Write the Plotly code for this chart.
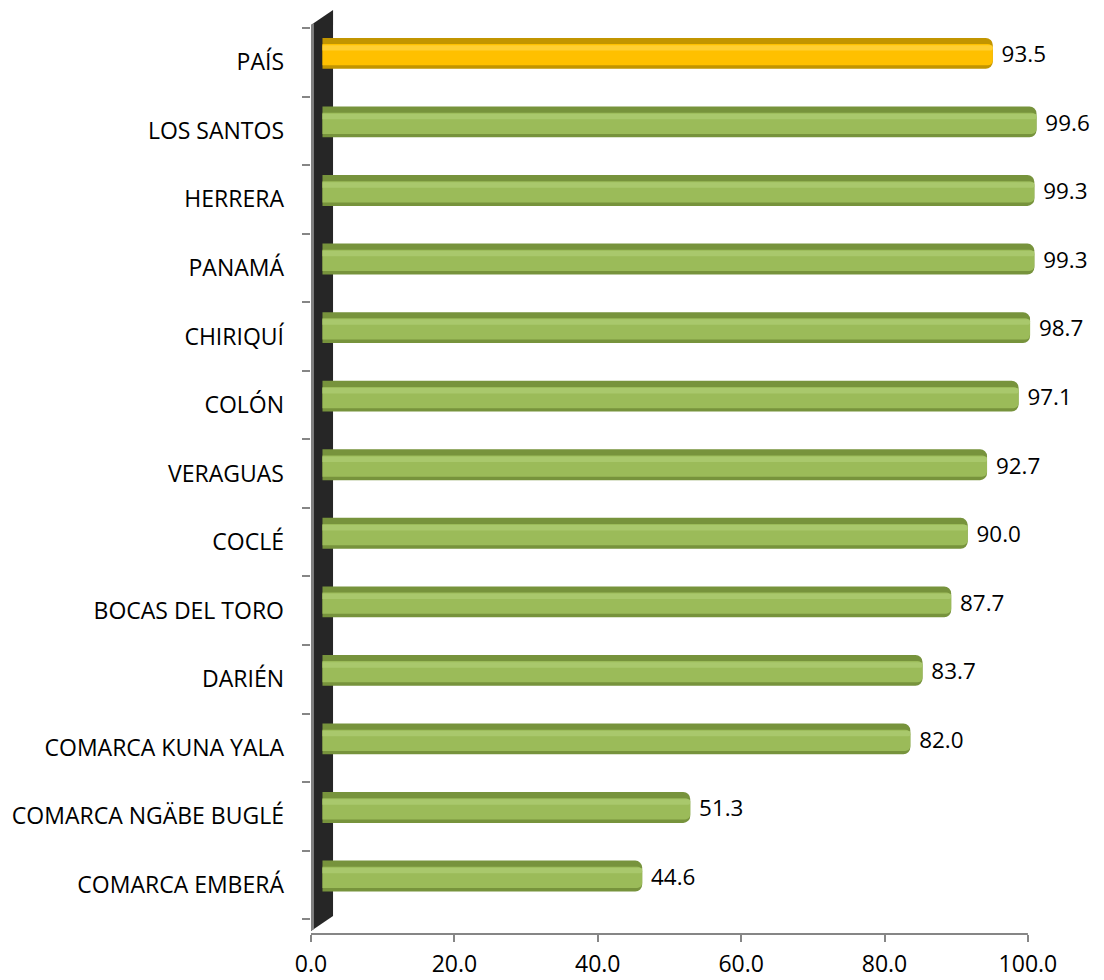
import plotly.graph_objects as go

# categories listed bottom -> top
regions = ["COMARCA EMBERÁ", "COMARCA NGÄBE BUGLÉ", "COMARCA KUNA YALA", "DARIÉN",
           "BOCAS DEL TORO", "COCLÉ", "VERAGUAS", "COLÓN", "CHIRIQUÍ", "PANAMÁ",
           "HERRERA", "LOS SANTOS", "PAÍS"]
values = [44.6, 51.3, 82.0, 83.7, 87.7, 90.0, 92.7, 97.1, 98.7, 99.3, 99.3, 99.6, 93.5]
x_ticks = [0, 20, 40, 60, 80, 100]

dark = ["#C29500" if r == "PAÍS" else "#77933C" for r in regions]
body = ["#FFC000" if r == "PAÍS" else "#9BBB59" for r in regions]
shine = ["#FFCF33" if r == "PAÍS" else "#A9C86C" for r in regions]

FONT = "'Open Sans', sans-serif"
SHIFT = 1.6      # 3D depth offset of the bars, in axis units
XMAX = 103.5     # room on the right for the value labels

fig = go.Figure()
# outer (shadow) bar with rounded end
fig.add_trace(go.Bar(
    y=regions, x=values, orientation="h", xaxis="x2",
    width=0.45, offset=-0.095,
    marker=dict(color=dark, cornerradius=7, line=dict(width=0)),
    text=[" " + f"{v:.1f}" for v in values], textposition="outside",
    textfont=dict(family=FONT, size=24, color="#000000"),
    cliponaxis=False, hoverinfo="skip",
))
# lighter body
fig.add_trace(go.Bar(
    y=regions, x=values, orientation="h", xaxis="x2",
    width=0.31, offset=-0.045,
    marker=dict(color=body, cornerradius=5, line=dict(width=0)),
    cliponaxis=False, hoverinfo="skip",
))
# soft highlight strip
fig.add_trace(go.Bar(
    y=regions, x=values, orientation="h", xaxis="x2",
    width=0.08, offset=0.17,
    marker=dict(color=shine, cornerradius=3, line=dict(width=0)),
    cliponaxis=False, hoverinfo="skip",
))
# invisible trace so the value axis gets drawn
fig.add_trace(go.Scatter(x=[0, 100], y=[regions[0], regions[0]], mode="markers",
                         marker=dict(opacity=0), hoverinfo="skip"))

# 3D back wall
fig.add_shape(type="path", xref="paper", yref="paper",
              path="M 0,0.0033 L 0,1.0033 L 0.0297,1.0199 L 0.0297,0.0199 Z",
              fillcolor="#262626", line=dict(width=0), layer="below")
fig.add_shape(type="path", xref="paper", yref="paper",
              path="M 0,0.0033 L 0,1.0033 L 0.004,1.0055 L 0.004,0.0055 Z",
              fillcolor="#808080", line=dict(width=0), layer="below")
# value axis line, only up to 100
fig.add_shape(type="line", xref="x", yref="paper", x0=0, x1=100, y0=0, y1=0,
              line=dict(color="#868686", width=2))

fig.update_layout(
    width=1104, height=980,
    margin=dict(l=311, r=51, t=28, b=46, autoexpand=False),
    plot_bgcolor="white", paper_bgcolor="white",
    barmode="overlay", showlegend=False,
    font=dict(family=FONT, size=23, color="#000000"),
    xaxis=dict(range=[0, XMAX], tickvals=x_ticks, tickformat=".1f",
               showgrid=False, zeroline=False, showline=False, automargin=False,
               ticks="outside", ticklen=7, tickcolor="#868686", tickwidth=2,
               ticklabelstandoff=2, tickfont=dict(family=FONT, size=23)),
    xaxis2=dict(range=[-SHIFT, XMAX - SHIFT], overlaying="x", visible=False),
    yaxis=dict(type="category", categoryorder="array", categoryarray=regions,
               showgrid=False, zeroline=False, showline=False, automargin=False,
               ticks="outside", ticklen=8, tickcolor="#868686", tickwidth=2,
               tickson="boundaries", ticklabelstandoff=26,
               tickfont=dict(family=FONT, size=23)),
)

fig.write_html("out.html", config={"displayModeBar": False},
               post_script="document.body.style.margin='0';")
